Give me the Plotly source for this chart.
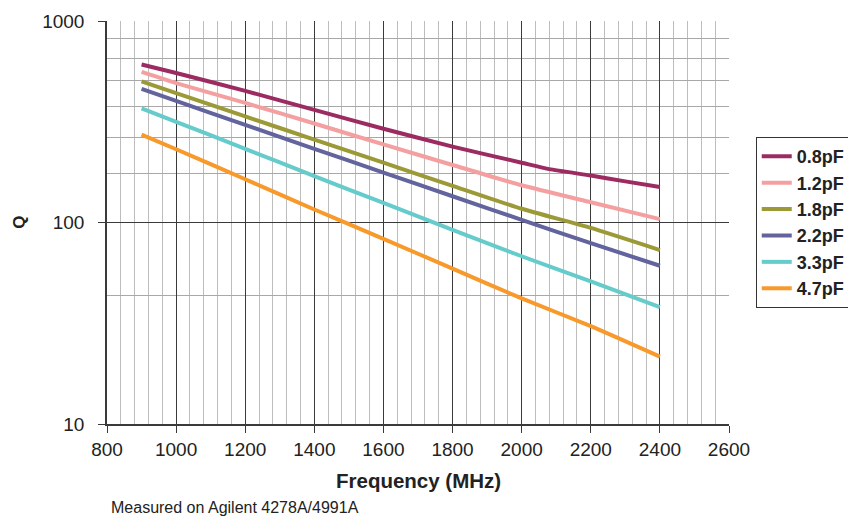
import plotly.graph_objects as go

freq = [900, 1000, 1200, 1400, 1600, 1800, 2000, 2200, 2400]
freq_08 = [900, 1000, 1200, 1400, 1600, 1800, 2000, 2080, 2200, 2300, 2400]

series_names = ["0.8pF", "1.2pF", "1.8pF", "2.2pF", "3.3pF", "4.7pF"]
q_08 = [608, 552, 450, 362, 292, 238, 198, 184, 171, 160, 150]
q_12 = [559, 492, 392, 310, 244, 193, 153, 126, 104]
q_18 = [502, 439, 336, 258, 198, 152, 117, 94, 73]
q_22 = [460, 401, 305, 232, 177, 135, 103, 79, 61]
q_33 = [368, 316, 232, 170, 125, 92, 68, 51, 38]
q_47 = [273, 231, 164, 116, 83, 59, 42, 30.6, 21.6]
series_x = [freq_08, freq, freq, freq, freq, freq]
series_values = [q_08, q_12, q_18, q_22, q_33, q_47]
colors = ["#9c2b61", "#f5a0a0", "#9c9a37", "#63649e", "#66cbcb", "#f8992b"]

x_ticks = [800, 1000, 1200, 1400, 1600, 1800, 2000, 2200, 2400, 2600]
y_ticks = [10, 100, 1000]
y_minor_grid = [43.2, 175.5, 265.5, 376.3, 507.3, 648.7, 818.8]

FONT = "Liberation Sans, Arial, Helvetica, sans-serif"

fig = go.Figure()
for name, xs, vals, col in zip(series_names, series_x, series_values, colors):
    fig.add_trace(go.Scatter(x=xs, y=vals, mode="lines", name=name,
                             line=dict(color=col, width=4, shape="spline",
                                       smoothing=0.5)))

# page body has an 8px default margin; margins compensate for it
fig.update_layout(
    width=856, height=518,
    margin=dict(l=99, r=135, t=13, b=102, autoexpand=False),
    paper_bgcolor="white", plot_bgcolor="white",
    font=dict(family=FONT, size=19, color="#222"),
    showlegend=True,
    legend=dict(x=1.043, y=0.712, xanchor="left", yanchor="top",
                bordercolor="#333", borderwidth=1, bgcolor="white",
                font=dict(family=FONT, size=18, color="#222", weight="bold"),
                itemwidth=30, tracegroupgap=0),
    xaxis=dict(range=[800, 2600], tickmode="array", tickvals=x_ticks,
               automargin=False,
               showgrid=True, gridcolor="#3a3a3a", gridwidth=1.3,
               showline=True, linecolor="#3a3a3a", linewidth=1.5,
               ticks="outside", ticklen=7, tickcolor="#3a3a3a", tickwidth=1.3,
               tickfont=dict(size=19, color="#222"),
               zeroline=False,
               minor=dict(dtick=40, tick0=800, showgrid=True,
                          gridcolor="#bdbdbd", gridwidth=1, ticks="")),
    yaxis=dict(type="log", range=[1, 3], tickmode="array", tickvals=y_ticks,
               ticktext=[str(v) for v in y_ticks],
               automargin=False, ticklabelstandoff=10,
               showgrid=True, gridcolor="#3a3a3a", gridwidth=1.3,
               showline=True, linecolor="#3a3a3a", linewidth=1.5,
               ticks="outside", ticklen=7, tickcolor="#3a3a3a", tickwidth=1.3,
               tickfont=dict(size=19, color="#222"),
               zeroline=False,
               minor=dict(tickmode="array", tickvals=y_minor_grid, showgrid=True,
                          gridcolor="#a8a8a8", gridwidth=1, ticks="")),
    annotations=[
        dict(text="<b>Frequency (MHz)</b>", xref="paper", yref="paper",
             x=0.5, y=-0.139, xanchor="center", yanchor="middle",
             showarrow=False, font=dict(size=20.5, color="#222")),
        dict(text="<b>Q</b>", xref="paper", yref="paper",
             x=-0.141, y=0.5, xanchor="center", yanchor="middle",
             textangle=-90, showarrow=False, font=dict(size=17, color="#222")),
        dict(text="Measured on Agilent 4278A/4991A", xref="paper", yref="paper",
             x=0.003, y=-0.208, xanchor="left", yanchor="middle",
             showarrow=False, font=dict(size=16, color="#222")),
    ],
)

fig.write_html("out.html")
